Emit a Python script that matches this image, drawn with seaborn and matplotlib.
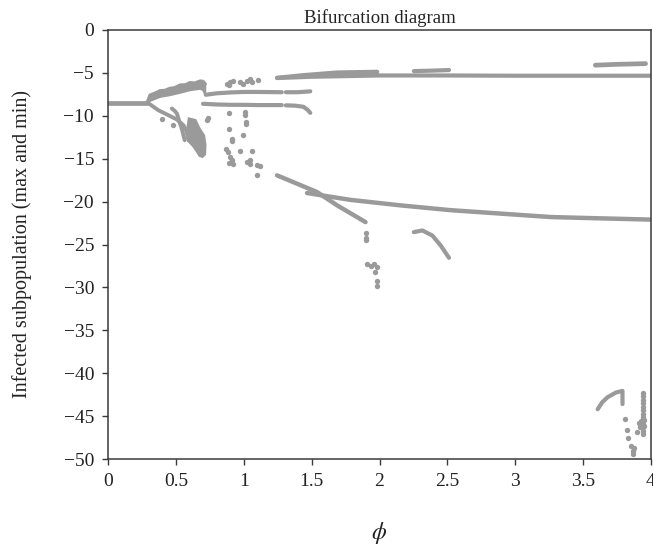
import numpy as np
import pandas as pd
import matplotlib
matplotlib.use("Agg")
import matplotlib.pyplot as plt
import seaborn as sns

# ---------------- data ----------------
# stable equilibrium before first bifurcation
base_x = [0.0, 0.29]
base_y = [-8.45, -8.45]

# upper band (0.29 - 0.72): top and bottom edges
band_top_x = [0.29, 0.31, 0.35, 0.384, 0.42, 0.458, 0.49, 0.531, 0.57, 0.605, 0.64, 0.679, 0.70, 0.716]
band_top_y = [-8.45, -7.6, -7.35, -7.09, -7.05, -6.81, -6.75, -6.43, -6.4, -6.15, -6.2, -5.96, -6.0, -6.3]
band_bot_x = [0.716, 0.70, 0.679, 0.605, 0.531, 0.458, 0.384, 0.31, 0.29]
band_bot_y = [-7.5, -7.0, -6.85, -7.01, -7.32, -7.59, -7.79, -8.26, -8.45]

# lower cascade strokes (0.29 - 0.6)
stroke1_x = [0.29, 0.371, 0.445, 0.507, 0.556, 0.58, 0.593]
stroke1_y = [-8.45, -9.35, -9.93, -10.43, -11.1, -11.9, -12.85]
stroke2_x = [0.47, 0.49, 0.507, 0.519, 0.53]
stroke2_y = [-9.15, -9.4, -9.73, -10.3, -10.9]
stroke3_x = [0.531, 0.545, 0.556, 0.565]
stroke3_y = [-10.9, -11.6, -12.3, -12.85]

# dense chaotic blob near 0.58 - 0.72 (outline)
blob_x = [0.595, 0.645, 0.672, 0.708, 0.718, 0.715, 0.695, 0.668, 0.63, 0.595, 0.582, 0.585]
blob_y = [-10.3, -10.5, -11.4, -12.3, -13.4, -14.5, -14.8, -14.5, -13.6, -13.0, -12.4, -11.4]

# two middle branches (0.72 - 1.5)
mid_hi1_x = [0.72, 0.80, 0.90, 1.00, 1.10, 1.28]
mid_hi1_y = [-7.55, -7.38, -7.28, -7.22, -7.22, -7.25]
mid_hi2_x = [1.31, 1.40, 1.49]
mid_hi2_y = [-7.25, -7.25, -7.15]
mid_lo1_x = [0.70, 0.80, 0.90, 1.00, 1.10, 1.28]
mid_lo1_y = [-8.6, -8.68, -8.72, -8.72, -8.75, -8.75]
mid_lo2_x = [1.31, 1.38, 1.44, 1.47, 1.49]
mid_lo2_y = [-8.78, -8.82, -8.95, -9.3, -9.66]

# upper long branch (1.25 - 4): thick band up to x~2, then single line
top_main_x = [1.245, 1.50, 2.00, 2.50, 3.00, 3.50, 4.00]
top_main_y = [-5.6, -5.45, -5.3, -5.3, -5.33, -5.33, -5.33]
top_edge_x = [1.245, 1.44, 1.688, 1.983]
top_edge_y = [-5.57, -5.26, -4.95, -4.87]
top_under_x = [1.983, 1.70, 1.50, 1.245]
top_under_y = [-5.3, -5.35, -5.45, -5.6]
top_seg1_x = [2.253, 2.38, 2.512]
top_seg1_y = [-4.79, -4.74, -4.67]
top_seg2_x = [3.59, 3.75, 3.96]
top_seg2_y = [-4.1, -4.0, -3.92]

# lower long branches
steep_x = [1.245, 1.392, 1.540, 1.688, 1.897]
steep_y = [-16.94, -17.91, -18.89, -20.44, -22.39]
shallow_x = [1.466, 1.786, 2.155, 2.524, 2.893, 3.262, 3.5, 4.0]
shallow_y = [-19.0, -19.8, -20.44, -21.0, -21.4, -21.8, -21.9, -22.1]
arc1_x = [2.253, 2.315, 2.389, 2.45, 2.512]
arc1_y = [-23.56, -23.36, -23.95, -25.1, -26.55]
arc2_x = [3.607, 3.64, 3.68, 3.742, 3.79, 3.79]
arc2_y = [-44.2, -43.4, -42.8, -42.25, -42.06, -43.6]

# scattered points
dots_x = [0.401, 0.482, 0.728, 0.74, 0.679,
          0.876, 0.900, 0.918, 0.888, 0.969, 0.991, 1.023, 1.048, 1.060, 1.102,
          0.888, 1.011, 1.011, 1.018, 1.018, 0.888, 0.991, 0.913, 0.913, 0.871,
          0.881, 0.969, 1.060, 0.900, 0.913, 0.895, 0.920, 1.023, 1.048, 1.048,
          1.097, 1.097, 1.12,
          1.904, 1.904, 1.904, 1.909, 1.934, 1.958, 1.983, 1.97, 1.983, 1.983,
          3.808, 3.82, 3.83, 3.85, 3.865, 3.877, 3.87,
          3.939, 3.939, 3.939, 3.939, 3.939, 3.939, 3.939, 3.939, 3.939, 3.939,
          3.939, 3.939, 3.939, 3.90, 3.915, 3.93, 3.945, 3.92, 3.95]
dots_y = [-10.43, -11.1, -10.5, -10.3, -14.4,
          -6.31, -6.04, -5.92, -6.43, -6.11, -6.31, -5.92, -5.76, -6.04, -5.84,
          -9.66, -9.54, -9.93, -10.71, -10.98, -11.49, -12.27, -12.66, -12.93, -13.82,
          -14.21, -14.10, -14.14, -14.80, -15.19, -15.50, -15.58, -15.38, -15.19, -15.58,
          -15.77, -16.94, -15.9,
          -23.7, -24.2, -24.45, -27.26, -27.45, -27.26, -27.57, -28.2, -29.2, -29.8,
          -45.36, -46.6, -47.6, -48.5, -49.07, -48.7, -49.45,
          -42.3, -42.7, -43.1, -43.5, -43.9, -44.3, -44.7, -45.1, -45.5, -45.9,
          -46.3, -46.7, -47.1, -46.85, -45.75, -45.6, -46.2, -46.3, -45.4]

# ---------------- styling ----------------
sns.set_style("ticks")
plt.rcParams['font.family'] = ['Liberation Serif', 'DejaVu Serif']
plt.rcParams['mathtext.fontset'] = 'stix'

GRAY = "#9a9a9a"
fig = plt.figure(figsize=(6.53, 5.47), dpi=100)
ax = fig.add_axes([108/653, 1-459/547, (651-108)/653, (459-30)/547])

def branch(xs, ys, lw):
    df = pd.DataFrame({"x": xs, "y": ys})
    sns.lineplot(data=df, x="x", y="y", sort=False, estimator=None, ax=ax,
                 color=GRAY, linewidth=lw, solid_capstyle="round")

# polygons for the dense bands and blob
ax.fill(band_top_x + band_bot_x, band_top_y + band_bot_y, color=GRAY, lw=1.5, ec=GRAY)
ax.fill(blob_x, blob_y, color=GRAY, lw=1.5, ec=GRAY)
ax.fill(top_edge_x + top_under_x, top_edge_y + top_under_y, color=GRAY, lw=1.5, ec=GRAY)

branch(base_x, base_y, 3.4)
branch(band_top_x, band_top_y, 2.5)
for xs, ys in [(stroke1_x, stroke1_y), (stroke2_x, stroke2_y), (stroke3_x, stroke3_y)]:
    branch(xs, ys, 2.8)
for xs, ys in [(mid_hi1_x, mid_hi1_y), (mid_hi2_x, mid_hi2_y),
               (mid_lo1_x, mid_lo1_y), (mid_lo2_x, mid_lo2_y)]:
    branch(xs, ys, 3.0)
branch(top_main_x, top_main_y, 3.0)
branch(top_edge_x, top_edge_y, 3.0)
branch(top_seg1_x, top_seg1_y, 3.0)
branch(top_seg2_x, top_seg2_y, 3.4)
branch(steep_x, steep_y, 3.2)
branch(shallow_x, shallow_y, 3.2)
branch(arc1_x, arc1_y, 3.0)
branch(arc2_x, arc2_y, 3.0)

sns.scatterplot(x=dots_x, y=dots_y, ax=ax, color=GRAY, s=15, linewidth=0)

ax.set_xlim(0, 4)
ax.set_ylim(-50, 0)
ax.set_xticks([0, 0.5, 1, 1.5, 2, 2.5, 3, 3.5, 4])
ax.set_xticklabels(["0", "0.5", "1", "1.5", "2", "2.5", "3", "3.5", "4"])
ax.set_yticks(list(range(-50, 1, 5)))
ax.set_yticklabels(["\u221250", "\u221245", "\u221240", "\u221235", "\u221230",
                    "\u221225", "\u221220", "\u221215", "\u221210", "\u22125", "0"])
for sp in ax.spines.values():
    sp.set_visible(True)
    sp.set_color("#3a3a3a")
    sp.set_linewidth(1.1)
ax.tick_params(direction="out", length=4.5, width=1.0, color="#3a3a3a",
               labelsize=14, pad=5.5, labelcolor="#222222")
ax.set_title("Bifurcation diagram", fontsize=13.5, pad=5, color="#222222")
ax.set_xlabel(r"$\phi$", fontsize=17, labelpad=22, color="#222222")
ax.set_ylabel("Infected subpopulation (max and min)", fontsize=14.5,
              labelpad=23, color="#222222")

fig.savefig("out.png", dpi=100)
